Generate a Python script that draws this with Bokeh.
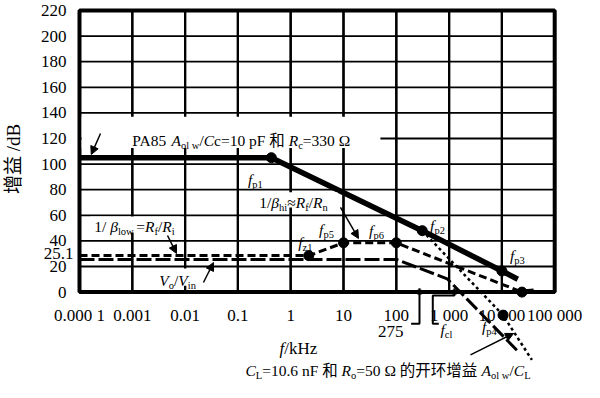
import math
from bokeh.plotting import figure
from bokeh.models import Range1d, FixedTicker, Label, Arrow, NormalHead, BoxAnnotation
from bokeh.embed import file_html
from bokeh.resources import INLINE

# ---------------- data ----------------
freq_ticks = [1e-4, 1e-3, 1e-2, 1e-1, 1.0, 10.0, 100.0, 1e3, 1e4, 1e5]
freq_labels = ["0.000 1", "0.001", "0.01", "0.1", "1", "10", "100", "1 000", "10 000", "100 000"]
gain_ticks = [0, 20, 40, 60, 80, 100, 120, 140, 160, 180, 200, 220]

# PA85 open-loop gain (Cc=10 pF, Rc=330 ohm)
aol_f = [1e-4, 0.43, 310, 10000, 20000]
aol_db = [105, 105, 48, 16.5, 10]
# open-loop gain with CL=10.6 nF, Ro=50 ohm
aolcl_f = [310, 10500, 37000]
aolcl_db = [48, -18, -53]
# 1/beta
beta_f = [1e-4, 2.2, 10, 100, 24000]
beta_db = [28.5, 28.5, 38.5, 38.5, 0]
# Vo/Vin
vo_f = [1e-4, 100, 920, 21000]
vo_db = [25.5, 25.5, 10.4, -47]
# break points (fp1, fp2, fp3, fp4, fz1, fp5, fp6, crossing)
dot_f = [0.43, 310, 10000, 10500, 2.2, 10, 100, 24000]
dot_db = [105, 48, 16.5, -18, 28.5, 38.5, 38.5, 0]
blob_f = [24000, 40000]
blob_db = [0, 0.8]
# frequency markers 275 kHz and fcl
mark_f = [275, 1265]

FONT = "Liberation Serif, Noto Sans CJK SC"

W, H = 584, 382
PXDB = 1.28          # pixels per dB
PXDEC = 52.8         # pixels per decade
BOX_L, BOX_T = 79, 10  # pixel position of (1e-4, 220 dB)
x_lo = 10 ** (-4 - BOX_L / PXDEC)
x_hi = 10 ** (-4 + (W - BOX_L) / PXDEC)
y_hi = 220 + BOX_T / PXDB
y_lo = 220 - (H - BOX_T) / PXDB

p = figure(width=W, height=H, x_axis_type="log",
           x_range=Range1d(x_lo, x_hi), y_range=Range1d(y_lo, y_hi),
           output_backend="svg", toolbar_location=None,
           min_border_left=0, min_border_right=0, min_border_top=0, min_border_bottom=0)
p.outline_line_color = None
p.xgrid.visible = False
p.ygrid.visible = False
p.background_fill_color = "white"

# axes (placed on the box edges)
xa = p.xaxis[0]
xa.ticker = FixedTicker(ticks=freq_ticks)
xa.major_label_overrides = {t: l for t, l in zip(freq_ticks, freq_labels)}
xa.fixed_location = 0
xa.axis_line_color = None
xa.major_tick_line_color = None
xa.minor_tick_line_color = None
xa.major_label_standoff = 8
xa.major_label_text_font = "Liberation Serif"
xa.major_label_text_font_size = "17px"
xa.major_label_text_color = "black"

ya = p.yaxis[0]
ya.ticker = FixedTicker(ticks=gain_ticks)
ya.fixed_location = freq_ticks[0]
ya.axis_line_color = None
ya.major_tick_line_color = None
ya.minor_tick_line_color = None
ya.major_label_standoff = 7
ya.major_label_text_font = "Liberation Serif"
ya.major_label_text_font_size = "17px"
ya.major_label_text_color = "black"

# grid lines (only inside the 0..220 dB box)
inner_f = freq_ticks[1:-1]
inner_g = gain_ticks[1:-1]
p.multi_line(xs=[[freq_ticks[0], freq_ticks[-1]] for g in inner_g], ys=[[g, g] for g in inner_g],
             line_color="black", line_width=1.8)
# vertical grid lines as rotated dash markers spanning the box height
mid_g = (gain_ticks[0] + gain_ticks[-1]) / 2
p.scatter(x=list(inner_f), y=[mid_g] * len(inner_f), marker="dash", angle=math.pi / 2,
          size=(gain_ticks[-1] - gain_ticks[0]) * PXDB, line_color="black", line_width=2.2,
          fill_color=None)

# frame border
p.quad(left=freq_ticks[0], right=freq_ticks[-1], bottom=gain_ticks[0], top=gain_ticks[-1],
       fill_color=None, line_color="black", line_width=4)

# curves
p.line(vo_f, vo_db, line_color="black", line_width=3, line_dash="15 4")
p.line(beta_f, beta_db, line_color="black", line_width=3, line_dash="8 4")
p.line(aolcl_f, aolcl_db, line_color="black", line_width=2.5, line_dash="3 3")
p.line(aol_f, aol_db, line_color="black", line_width=5.5)
p.line(blob_f, blob_db, line_color="black", line_width=5)
p.scatter(dot_f, dot_db, size=10, color="black")

# brackets
p.line([191, mark_f[0], mark_f[0]], [-24.8, -24.8, 3], line_color="black", line_width=2)
p.line([638, 491, 491, mark_f[1], mark_f[1]], [-24.8, -24.8, -2.7, -2.7, 3], line_color="black", line_width=2)
p.scatter(mark_f, [0, 0], size=4, marker="square", color="black")

# vertical grid lines again as thin boxes (annotation level)
k = 10 ** (1.1 / PXDEC)   # half of a 2.2 px line, in decades
for f in inner_f:
    p.add_layout(BoxAnnotation(left=f / k, right=f * k, bottom=gain_ticks[0], top=gain_ticks[-1],
                               fill_color="black", fill_alpha=1.0, line_color=None))

# white backgrounds behind labels (cover the grid lines there)
for l, r, b, t in [(1e-4 * k * k, 50, 112.5, 137), (0.173, 7.7, 66, 78),
                   (1.6e-4, 8.2e-3, 46.6, 59), (2.75e-3, 0.0196, 5, 18.5)]:
    p.add_layout(BoxAnnotation(left=l, right=r, bottom=b, top=t,
                               fill_color="white", fill_alpha=1.0, line_color=None))

# ---------------- text helpers ----------------
REG = {' ': 250, '.': 250, '/': 278, '=': 564, '≈': 549, 'Ω': 768, 'β': 500,
       'A': 722, 'B': 667, 'C': 667, 'F': 556, 'H': 722, 'L': 611, 'P': 556, 'R': 667, 'V': 722,
       'a': 444, 'c': 444, 'd': 500, 'e': 444, 'f': 333, 'h': 500, 'i': 278, 'k': 500, 'l': 278,
       'n': 500, 'o': 500, 'p': 500, 'r': 333, 't': 278, 'w': 722, 'z': 444}
ITA = {'A': 611, 'C': 667, 'R': 611, 'V': 611, 'L': 556, 'f': 278, 'β': 500}


def tw(s, style, size):
    tot = 0
    for ch in s:
        if ord(ch) >= 0x2E80:
            tot += 1000
        elif style in ('i', 'si') and ch in ITA:
            tot += ITA[ch]
        else:
            tot += REG.get(ch, 500)
    return tot * size / 1000.0


def rich(x, y, pieces, size=15.5, align="left"):
    info = []
    total = 0
    for t, st in pieces:
        sz = size * 0.68 if st in ('s', 'si') else size
        w = tw(t, st, sz)
        info.append((sz, w))
        total += w
    off = 0 if align == "left" else (-total / 2 if align == "center" else -total)
    for (t, st), (sz, w) in zip(pieces, info):
        dy = -0.3 * size if st in ('s', 'si') else 0
        p.add_layout(Label(x=x, y=y, text=t, x_offset=off, y_offset=dy - 0.28 * size,
                           text_font=FONT, text_font_size=f"{sz:.1f}px",
                           text_font_style="italic" if st in ('i', 'si') else "normal",
                           text_baseline="alphabetic", text_align="left", text_color="black"))
        off += w


def fp(x, y, sub, align="center"):
    rich(x, y, [("f", "i"), (sub, "s")], align=align)


rich(1.0e-3, 121.6, [("PA85 ", "r"), ("A", "i"), ("ol w", "s"), ("/", "r"), ("C", "i"),
                     ("c=10 pF 和 ", "r"), ("R", "i"), ("c", "s"), ("=330  Ω", "r")])
fp(0.215, 91.1, "p1")
rich(1.13, 73.1, [("1/", "r"), ("β", "i"), ("hi", "s"), ("≈", "r"), ("R", "i"), ("f", "s"),
                  ("/", "r"), ("R", "i"), ("n", "s")], align="center")
rich(1.1e-3, 54.4, [("1/ ", "r"), ("β", "i"), (" low", "s"), ("=", "r"), ("R", "i"), ("f", "s"),
                    ("/", "r"), ("R", "i"), ("i", "s")], align="center")
rich(7.2e-3, 12.2, [("V", "i"), ("o", "s"), ("/", "r"), ("V", "i"), ("in", "s")], align="center")
fp(4.77, 52.0, "p5")
fp(42.2, 51.25, "p6")
fp(1.9, 41.9, "z1")
fp(603, 55.5, "p2")
fp(19700, 31.7, "p3")
fp(5820, -23.75, "p4")
rich(137, -26.9, [("275", "r")], size=17, align="right")
rich(687, -26.1, [("f", "i"), ("cl", "s")])
rich(1.53, -40.0, [("f", "i"), (" /kHz", "r")], size=17, align="center")
rich(0.139, -58.0, [("C", "i"), ("L", "s"), ("=10.6 nF 和 ", "r"), ("R", "i"), ("o", "s"),
                    ("=50 Ω 的开环增益 ", "r"), ("A", "i"), ("ol w", "s"), ("/", "r"),
                    ("C", "i"), ("L", "s")])

# axis-side labels
p.add_layout(Label(x=10 ** -5.25, y=105.9, text="增益  /dB", angle=math.pi / 2,
                   text_font=FONT, text_font_size="19px", text_align="center",
                   text_baseline="middle", text_color="black"))
p.add_layout(Label(x=10 ** -4.114, y=30.2, text="25.1", text_font="Liberation Serif",
                   text_font_size="17px", text_align="right", text_baseline="middle",
                   text_color="black"))

# arrows
for xs, ys, xe, ye in [(2.5e-4, 123.9, 1.67e-4, 107.5),
                       (4.64e-3, 44.2, 6.87e-3, 30.2),
                       (0.0223, 7.5, 0.0345, 23.1),
                       (8.77, 66.1, 19.2, 41.9),
                       (2540, -49, 16600, -32.3)]:
    p.add_layout(Arrow(end=NormalHead(size=8, fill_color="black", line_color="black"),
                       x_start=xs, y_start=ys, x_end=xe, y_end=ye,
                       line_color="black", line_width=1.5))

open("out.html", "w").write(file_html(p, INLINE))
